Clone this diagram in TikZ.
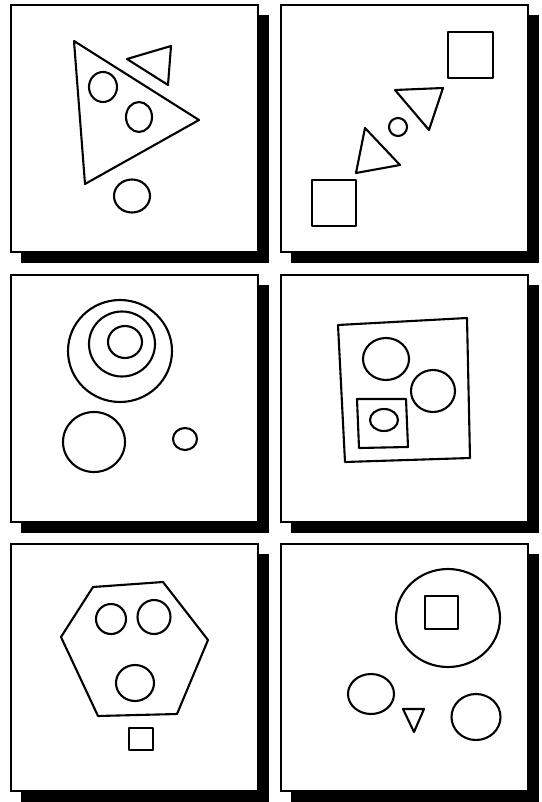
\documentclass[tikz,border=0pt]{standalone}
\begin{document}
\begin{tikzpicture}[x=1pt,y=-1pt,
  shape line/.style={line width=2.1pt, line join=round, line cap=round},
  panel/.style={draw=black, fill=white, line width=1.6pt},
  shadowbox/.style={fill=black}]
\useasboundingbox (0,0) rectangle (541,802);
\fill[white] (0,0) rectangle (541,802);
% panels with drop shadows
\foreach \x/\y in {11/5, 281/5, 11/275, 281/275, 11/544, 281/544}{
  \fill[shadowbox] (\x+10,\y+10) rectangle (\x+258,\y+258);
  \draw[panel] (\x,\y) rectangle (\x+247,\y+247);
}
% ---- panel 1
\draw[shape line] (74,41) -- (199,120) -- (85,184) -- cycle;
\draw[shape line] (127,59) -- (171,46) -- (168,85) -- cycle;
\draw[shape line] (103,87) ellipse (14 and 15);
\draw[shape line] (139,117) ellipse (13 and 15);
\draw[shape line] (132,196) ellipse (18 and 16.5);
% ---- panel 2
\draw[shape line] (448,32) rectangle (493,78);
\draw[shape line] (395,90) -- (443,88) -- (429,130) -- cycle;
\draw[shape line] (398,127) circle (9);
\draw[shape line] (365,128) -- (400,165) -- (356,173) -- cycle;
\draw[shape line] (312,180) rectangle (356,226);
% ---- panel 3
\draw[shape line] (120,351) ellipse (52 and 51);
\draw[shape line] (122,344) ellipse (33 and 32.5);
\draw[shape line] (125,342) ellipse (17 and 16);
\draw[shape line] (94,442) ellipse (31 and 30);
\draw[shape line] (185,439) ellipse (12 and 11);
% ---- panel 4
\draw[shape line] (338,325) -- (467,318) -- (470,458) -- (345,462) -- cycle;
\draw[shape line] (386,359) ellipse (23 and 21);
\draw[shape line] (433,391) ellipse (22 and 21);
\draw[shape line] (357,399) -- (406,399) -- (408,447) -- (359,448) -- cycle;
\draw[shape line] (384,420) ellipse (14 and 11);
% ---- panel 5
\draw[shape line] (93,587) -- (163,582) -- (208,640) -- (177,714) -- (98,716) -- (61,637) -- cycle;
\draw[shape line] (111,619) circle (15);
\draw[shape line] (154,617) ellipse (16.5 and 17);
\draw[shape line] (135,683) ellipse (19 and 18);
\draw[shape line] (129,728) rectangle (153,750);
% ---- panel 6
\draw[shape line] (448,618) ellipse (52 and 49);
\draw[shape line] (425,596) rectangle (458,629);
\draw[shape line] (371,694) ellipse (23 and 20);
\draw[shape line] (403,709) -- (424,709) -- (414,732) -- cycle;
\draw[shape line] (476,717) ellipse (24.5 and 23);
\end{tikzpicture}
\end{document}
